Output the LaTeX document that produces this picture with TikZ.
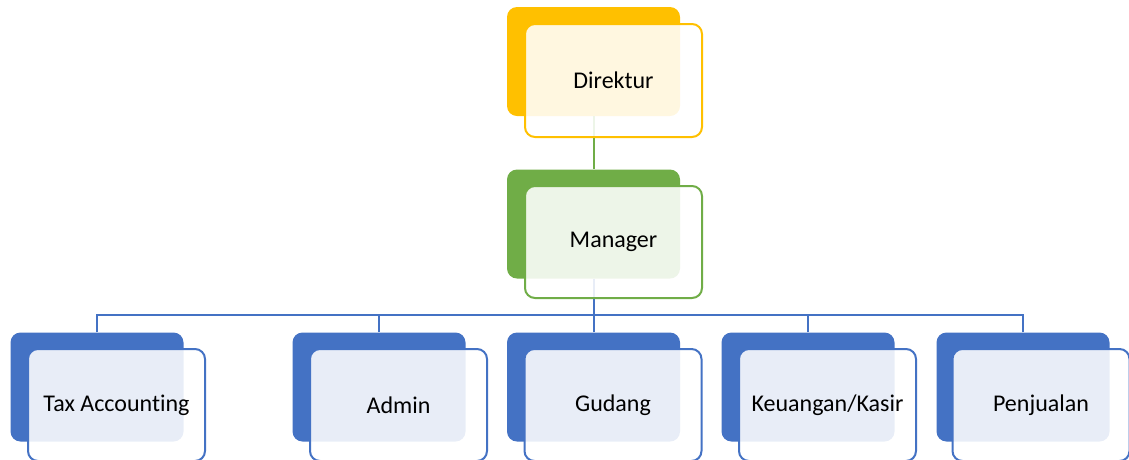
\documentclass[tikz,border=0pt]{standalone}
\usepackage{fontspec}
\setmainfont[Ligatures={NoCommon,NoContextual},RawFeature={-liga;-clig;-dlig}]{Carlito}
\definecolor{cOrange}{HTML}{FFC000}
\definecolor{cGreen}{HTML}{70AD47}
\definecolor{cBlue}{HTML}{4472C4}
\tikzset{
  backbox/.style={rectangle, rounded corners=10pt, minimum width=173pt, minimum height=109pt, inner sep=0pt, draw=none},
  frontbox/.style={rectangle, rounded corners=10pt, minimum width=177pt, minimum height=112pt, inner sep=0pt, line width=2pt, fill=white, fill opacity=0.88, text opacity=1, draw opacity=1, font=\fontsize{24}{28}\selectfont},
  link/.style={line width=2pt}
}
\begin{document}
\begin{tikzpicture}[x=1pt,y=1pt]
\useasboundingbox (0,0) rectangle (1129,-459);
\clip (0,0) rectangle (1129,-459);
% back boxes
\node[backbox, fill=cOrange] (dB) at (593.5,-61.5) {};
\node[backbox, fill=cGreen] (mB) at (593.5,-224) {};
\node[backbox, fill=cBlue] (tB) at (97,-387) {};
\node[backbox, fill=cBlue] (aB) at (379,-387) {};
\node[backbox, fill=cBlue] (gB) at (593.5,-387) {};
\node[backbox, fill=cBlue] (kB) at (808,-387) {};
\node[backbox, fill=cBlue] (pB) at (1023,-387) {};
% connectors
\coordinate (bus) at (593.5,-315);
\draw[link, cGreen] (dB.south) -- (mB.north);
\draw[link, cBlue] (mB.south) -- (bus);
\draw[link, cBlue] (tB.north) |- (bus);
\draw[link, cBlue] (pB.north) |- (bus);
\draw[link, cBlue] (aB.north) -- (aB.north |- bus);
\draw[link, cBlue] (gB.north) -- (bus);
\draw[link, cBlue] (kB.north) -- (kB.north |- bus);
% front boxes
\node[frontbox, draw=cOrange, minimum height=113pt] (dF) at (613.5,-80.5) {Direktur};
\node[frontbox, draw=cGreen] (mF) at (613.5,-242) {Manager};
\node[frontbox, draw=cBlue] (tF) at (116.5,-405) {Tax Accounting};
\node[frontbox, draw=cBlue] (aF) at (398.5,-405) {Admin};
\node[frontbox, draw=cBlue] (gF) at (613,-405) {Gudang};
\node[frontbox, draw=cBlue] (kF) at (827.5,-405) {Keuangan/Kasir};
\node[frontbox, draw=cBlue] (pF) at (1041,-405) {Penjualan};
\end{tikzpicture}
\end{document}
